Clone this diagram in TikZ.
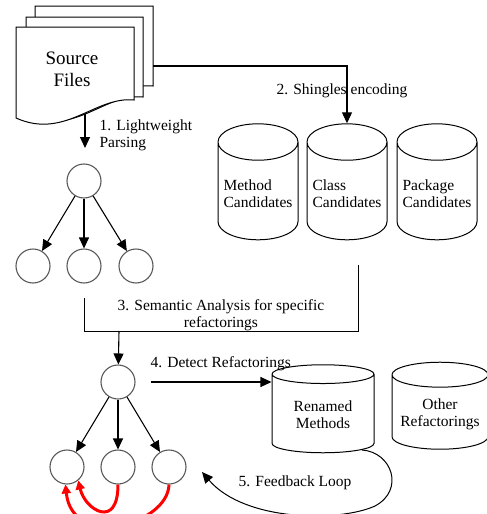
\documentclass[tikz,border=0pt]{standalone}
\usepackage{fontspec}
\setmainfont{Liberation Serif}
\usepackage{tikz}
\usetikzlibrary{positioning,shapes.geometric,arrows.meta}

\begin{document}
\begin{tikzpicture}[x=1pt,y=-1pt,
    every node/.style={font=\fontsize{15.5}{17}\selectfont},
    vertex/.style={circle,draw=black!65,line width=1.1pt,minimum size=34pt,inner sep=0pt},
    store/.style={cylinder,shape border rotate=90,draw,line width=1pt,inner sep=2pt},
    flow/.style={line width=1.1pt,-{Triangle[length=11pt,width=10pt]}},
    loopback/.style={red,line width=3pt,-{Triangle[length=9pt,width=9pt]}},
    sheet/.style={draw,fill=white,line width=1pt}]
    \useasboundingbox (0,0) rectangle (487,514);
    \clip (0,0) rectangle (487,514);

    \foreach \l/\t/\r/\b in {35/6/153/86, 26/17/143/97, 16/27/134/100}
        \draw[sheet] (\l,\t) -- (\r,\t) -- (\r,\b) .. controls (\r-39,\b-4) and (\l+49,\b+40) .. (\l,\b+18) -- cycle;
    \node[align=center,font=\fontsize{19}{22}\selectfont] (src) at (72,69) {Source\\Files};
    \coordinate (srcR) at (153,66);
    \coordinate (srcB) at (85,114);
    \coordinate (parse) at (85,148);

    \node[store,align=left,aspect=0.5,minimum width=80pt,minimum height=116pt] (meth) at (258,194) {Method\\Candidates};
    \node[store,align=left,aspect=0.5,minimum width=80pt,minimum height=116pt] (cls) at (347,194) {Class\\Candidates};
    \node[store,align=left,aspect=0.5,minimum width=80pt,minimum height=116pt] (pkg) at (437,194) {Package\\Candidates};

    \draw[flow] (srcR) -| (cls.north);
    \node (lbl2) at (342,91) {2. Shingles encoding};
    \draw[flow] (srcB) -- (parse);
    \node[anchor=north west,align=left] (lbl1) at (96,116) {1. Lightweight\\Parsing};

    \node[vertex] (p1) at (84,181) {};
    \node[vertex] (c11) at (33,266) {};
    \node[vertex] (c12) at (84,266) {};
    \node[vertex] (c13) at (136,266) {};
    \foreach \c in {c11,c12,c13}
        \draw[flow] (p1) -- (\c);

    \coordinate (semL) at (84,298);
    \coordinate (semBL) at (84,331);
    \coordinate (semBR) at (358,331);
    \coordinate (semR) at (358,265);
    \coordinate (semOut) at (119,331);
    \draw[line width=1pt] (semL) -- (semBL) -- (semBR) -- (semR);
    \node[align=center] (lbl3) at (221,315.5) {3. Semantic Analysis for specific\\refactorings};

    \node[vertex] (p2) at (118,382) {};
    \node[vertex] (c21) at (67,467) {};
    \node[vertex] (c22) at (118,467) {};
    \node[vertex] (c23) at (169,467) {};
    \draw[flow] (semOut) -- (p2);
    \foreach \c in {c21,c22,c23}
        \draw[flow] (p2) -- (\c);

    \node[store,align=center,aspect=0.3,minimum width=102pt,minimum height=88pt] (ren) at (323,415) {Renamed\\Methods};
    \node[store,align=center,aspect=0.3,minimum width=96pt,minimum height=87pt] (oth) at (440,414) {Other\\Refactorings};
    \coordinate (detS) at (151,382);
    \draw[flow] (detS) -- (detS -| ren.west);
    \node[anchor=west] (lbl4) at (147,364) {4. Detect Refactorings};

    \coordinate (fbS) at (362,450);
    \coordinate (fbE) at (202,472);
    \draw[flow,line width=1pt] (fbS) .. controls (392,452) and (405,490) .. (375,506) .. controls (340,522) and (245,522) .. (fbE);
    \node (lbl5) at (295,483) {5. Feedback Loop};

    \draw[loopback] (c22.south) .. controls (118,530) and (85,510) .. (c21.-50);
    \draw[loopback] (c23.south) .. controls (168,525) and (72,550) .. (c21.-95);
\end{tikzpicture}
\end{document}
